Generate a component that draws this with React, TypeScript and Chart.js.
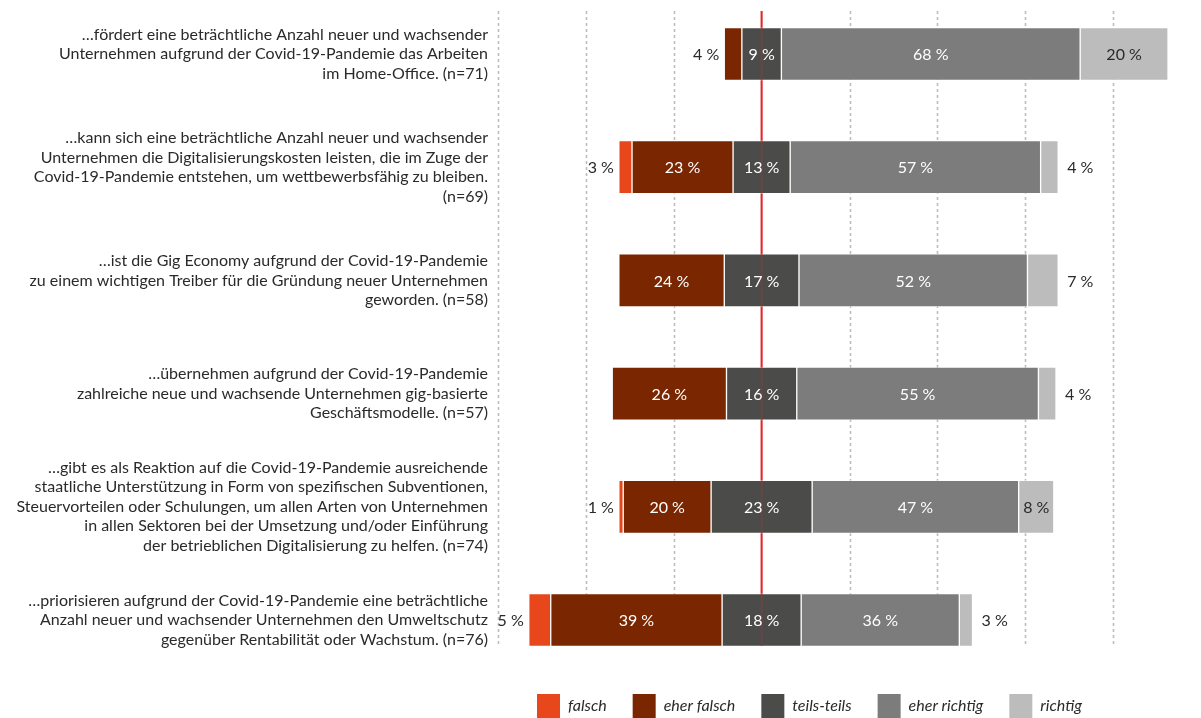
import React, { useEffect, useRef } from "react";
import { Chart, registerables } from "chart.js";

Chart.register(...registerables);

const statements: string[][] = [
  ["…fördert eine beträchtliche Anzahl neuer und wachsender", "Unternehmen aufgrund der Covid-19-Pandemie das Arbeiten", "im Home-Office. (n=71)"],
  ["…kann sich eine beträchtliche Anzahl neuer und wachsender", "Unternehmen die Digitalisierungskosten leisten, die im Zuge der", "Covid-19-Pandemie entstehen, um wettbewerbsfähig zu bleiben.", "(n=69)"],
  ["…ist die Gig Economy aufgrund der Covid-19-Pandemie", "zu einem wichtigen Treiber für die Gründung neuer Unternehmen", "geworden. (n=58)"],
  ["…übernehmen aufgrund der Covid-19-Pandemie", "zahlreiche neue und wachsende Unternehmen gig-basierte", "Geschäftsmodelle. (n=57)"],
  ["…gibt es als Reaktion auf die Covid-19-Pandemie ausreichende", "staatliche Unterstützung in Form von spezifischen Subventionen,", "Steuervorteilen oder Schulungen, um allen Arten von Unternehmen", "in allen Sektoren bei der Umsetzung und/oder Einführung", "der betrieblichen Digitalisierung zu helfen. (n=74)"],
  ["…priorisieren aufgrund der Covid-19-Pandemie eine beträchtliche", "Anzahl neuer und wachsender Unternehmen den Umweltschutz", "gegenüber Rentabilität oder Wachstum. (n=76)"],
];

const seriesNames = ["falsch", "eher falsch", "teils-teils", "eher richtig", "richtig"];
const falsch = [0, 3, 0, 0, 1, 5];
const eherFalsch = [4, 23, 24, 26, 20, 39];
const teilsTeils = [9, 13, 17, 16, 23, 18];
const eherRichtig = [68, 57, 52, 55, 47, 36];
const richtig = [20, 4, 7, 4, 8, 3];
const seriesColors = ["#E8471B", "#7A2600", "#4B4B4A", "#7C7C7C", "#BCBCBC"];
const labelColors = ["#ffffff", "#ffffff", "#ffffff", "#ffffff", "#2a2a2a"];
const xTicks = [-60, -40, -20, 0, 20, 40, 60, 80];

const FONT = "Lato";

function buildRanges() {
  const out: (number[] | null)[][] = [[], [], [], [], []];
  for (let i = 0; i < falsch.length; i++) {
    const t = teilsTeils[i] / 2;
    const left = -(t + eherFalsch[i] + falsch[i]);
    const segs = [
      [left, left + falsch[i]],
      [-t - eherFalsch[i], -t],
      [-t, t],
      [t, t + eherRichtig[i]],
      [t + eherRichtig[i], t + eherRichtig[i] + richtig[i]],
    ];
    const vals = [falsch[i], eherFalsch[i], teilsTeils[i], eherRichtig[i], richtig[i]];
    segs.forEach((s, k) => out[k].push(vals[k] > 0 ? s : null));
  }
  return out;
}

const seriesValues = [falsch, eherFalsch, teilsTeils, eherRichtig, richtig];

function lineExtent(chart: any) {
  const y = chart.scales.y;
  const half = 26;
  return {
    top: y.getPixelForValue(0) - half - 17,
    bottom: y.getPixelForValue(falsch.length - 1) + half,
  };
}

const decorPlugin = {
  id: "decor",
  beforeDatasetsDraw(chart: any) {
    const { ctx } = chart;
    const x = chart.scales.x;
    const { top, bottom } = lineExtent(chart);
    ctx.save();
    ctx.strokeStyle = "#bdbdbd";
    ctx.lineWidth = 1.6;
    ctx.setLineDash([3, 3]);
    xTicks.forEach((v) => {
      if (v === 0) return;
      const px = Math.round(x.getPixelForValue(v)) + 0.5;
      ctx.beginPath();
      ctx.moveTo(px, top);
      ctx.lineTo(px, bottom);
      ctx.stroke();
    });
    ctx.setLineDash([]);
    ctx.strokeStyle = "#E0282C";
    ctx.lineWidth = 2;
    const zx = x.getPixelForValue(0);
    ctx.beginPath();
    ctx.moveTo(zx, top);
    ctx.lineTo(zx, bottom);
    ctx.stroke();
    ctx.restore();
  },
  afterDatasetsDraw(chart: any) {
    const { ctx } = chart;
    const x = chart.scales.x;
    const y = chart.scales.y;
    const { top, bottom } = lineExtent(chart);
    ctx.save();
    ctx.globalAlpha = 0.2;
    ctx.strokeStyle = "#E0282C";
    ctx.lineWidth = 2;
    const zx = x.getPixelForValue(0);
    ctx.beginPath();
    ctx.moveTo(zx, top);
    ctx.lineTo(zx, bottom);
    ctx.stroke();
    ctx.restore();

    // value labels
    ctx.save();
    ctx.font = `16px ${FONT}`;
    ctx.textBaseline = "middle";
    for (let i = 0; i < falsch.length; i++) {
      let leftEdge = Infinity;
      let rightEdge = -Infinity;
      chart.data.datasets.forEach((ds: any) => {
        const r = ds.data[i];
        if (!r) return;
        leftEdge = Math.min(leftEdge, x.getPixelForValue(r[0]));
        rightEdge = Math.max(rightEdge, x.getPixelForValue(r[1]));
      });
      const cy = y.getPixelForValue(i);
      chart.data.datasets.forEach((ds: any, k: number) => {
        const r = ds.data[i];
        if (!r) return;
        const v = seriesValues[k][i];
        const txt = `${v} %`;
        if (v >= 8) {
          ctx.fillStyle = labelColors[k];
          ctx.textAlign = "center";
          ctx.fillText(txt, (x.getPixelForValue(r[0]) + x.getPixelForValue(r[1])) / 2, cy + 1);
        } else if (k < 2) {
          ctx.fillStyle = "#2a2a2a";
          ctx.textAlign = "right";
          ctx.fillText(txt, leftEdge - 5, cy + 1);
        } else {
          ctx.fillStyle = "#2a2a2a";
          ctx.textAlign = "left";
          ctx.fillText(txt, rightEdge + 9, cy + 1);
        }
      });
    }
    ctx.restore();
  },
  afterDraw(chart: any) {
    const { ctx } = chart;
    const boxW = 23;
    const boxH = 24;
    const gapText = 8;
    const gapItem = 26;
    let lx = 537;
    const ly = chart.height - 24;
    ctx.save();
    ctx.font = `italic 16px ${FONT}`;
    ctx.textBaseline = "middle";
    ctx.textAlign = "left";
    seriesNames.forEach((name, k) => {
      ctx.fillStyle = seriesColors[k];
      ctx.fillRect(lx, ly, boxW, boxH);
      ctx.fillStyle = "#2a2a2a";
      ctx.fillText(name, lx + boxW + gapText, ly + 12);
      lx += boxW + gapText + ctx.measureText(name).width + gapItem;
    });
    ctx.restore();
  },
};

export default function App() {
  const ref = useRef<HTMLCanvasElement>(null);
  useEffect(() => {
    if (!ref.current) return;
    const ranges = buildRanges();
    const chart = new Chart(ref.current, {
      type: "bar",
      data: {
        labels: statements as any,
        datasets: seriesNames.map((name, k) => ({
          label: name,
          data: ranges[k] as any,
          backgroundColor: seriesColors[k],
          borderColor: "rgba(255,255,255,0.45)",
          borderWidth: 1,
          borderSkipped: false,
          barThickness: 53,
          grouped: false,
          clip: false as any,
        })),
      },
      options: {
        indexAxis: "y",
        animation: false,
        responsive: false,
        maintainAspectRatio: false,
        layout: { padding: { top: 54, bottom: 98, left: 0, right: 0 } },
        plugins: {
          legend: { display: false },
          tooltip: { enabled: false },
        },
        scales: {
          x: {
            display: false,
            min: -60,
            max: 100,
          },
          y: {
            offset: false,
            grid: { display: false },
            border: { display: false },
            ticks: {
              padding: 2,
              color: "#2a2a2a",
              font: { family: FONT, size: 16, lineHeight: 1.22 },
            },
            afterFit(scale: any) {
              scale.width = 498;
            },
          },
        },
      },
      plugins: [decorPlugin],
    });
    return () => chart.destroy();
  }, []);
  return (
    <div style={{ position: "fixed", left: 0, top: 0, width: 1201, height: 718, background: "#fff" }}>
      <canvas ref={ref} width={1201} height={718} />
    </div>
  );
}
